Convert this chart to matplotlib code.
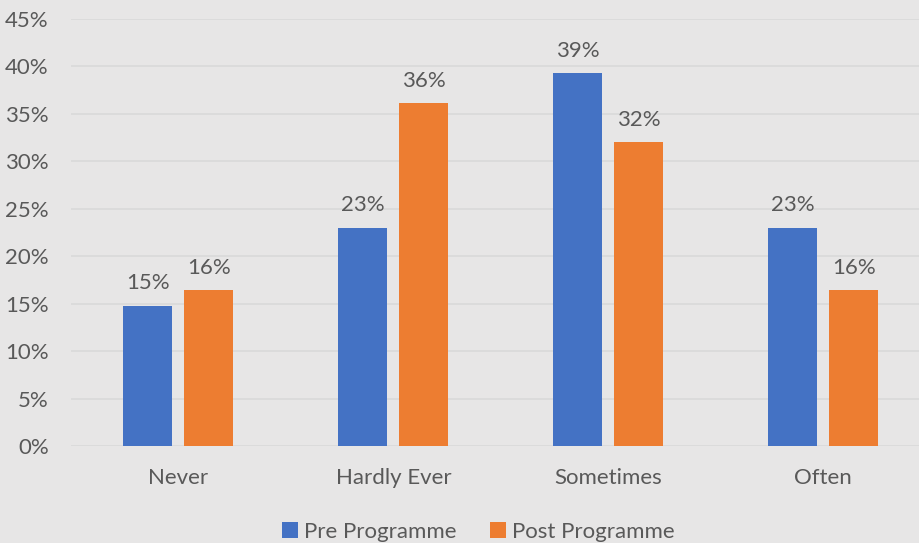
import numpy as np
import matplotlib.pyplot as plt

plt.rcParams['font.family'] = ['Lato', 'DejaVu Sans']

categories = ['Never', 'Hardly Ever', 'Sometimes', 'Often']
pre = [14.8, 23.0, 39.3, 23.0]
post = [16.4, 36.1, 32.0, 16.4]
series = ['Pre Programme', 'Post Programme']

bg = '#E7E6E6'
txt = '#595959'
blue = '#4472C4'
orange = '#ED7D31'
fs = 16

fig = plt.figure(figsize=(9.2, 5.43), dpi=100, facecolor=bg)
ax = fig.add_axes([71 / 920, 97 / 543, 1 - 71 / 920, 427 / 543], facecolor=bg)

x = np.arange(len(categories))
w = 0.228
off = 0.142
b1 = ax.bar(x - off, pre, w, color=blue, label=series[0], zorder=3)
b2 = ax.bar(x + off, post, w, color=orange, label=series[1], zorder=3)

for bars in (b1, b2):
    for b in bars:
        h = b.get_height()
        ax.text(b.get_x() + b.get_width() / 2, h + 1.3, f'{h:.0f}%',
                ha='center', va='bottom', fontsize=fs, color=txt)

ax.set_ylim(0, 45)
ax.set_xlim(-0.5, 3.45)
ax.set_yticks(np.arange(0, 46, 5))
ax.set_yticklabels([f'{v}%' for v in range(0, 46, 5)])
ax.set_xticks(x)
ax.set_xticklabels(categories)
ax.tick_params(axis='both', length=0, labelsize=fs, colors=txt)
ax.tick_params(axis='y', pad=16)
ax.tick_params(axis='x', pad=16)
ax.grid(axis='y', color='#D9D9D9', linewidth=1.2, zorder=0)
for s in ax.spines.values():
    s.set_visible(False)

fig.legend(loc='lower center', bbox_to_anchor=(0.52, -0.035), ncol=2, frameon=False,
           fontsize=fs, labelcolor=txt, handlelength=0.7, handleheight=0.7,
           handletextpad=0.3, columnspacing=1.5)

fig.savefig('out.png', dpi=100, facecolor=bg)
